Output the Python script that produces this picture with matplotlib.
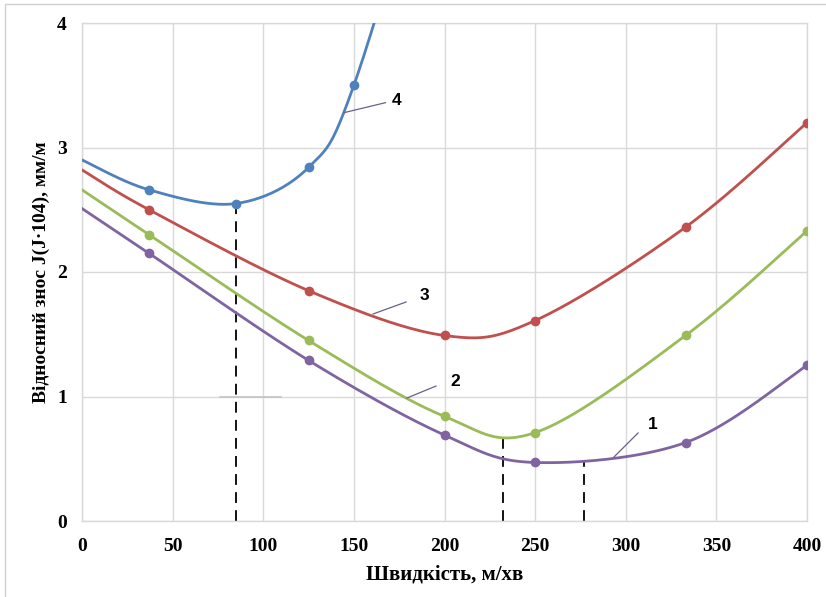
import numpy as np
import matplotlib
matplotlib.use("Agg")
import matplotlib.pyplot as plt
from matplotlib.patches import Rectangle

# швидкість, м/хв
x_speed = [0, 37, 125, 200, 250, 333, 400]
x_speed4 = [0, 37, 85, 125, 150, 200]

# відносний знос, мм/м
wear_1 = [2.51, 2.15, 1.29, 0.69, 0.47, 0.63, 1.25]
wear_2 = [2.66, 2.30, 1.45, 0.84, 0.71, 1.49, 2.33]
wear_3 = [2.82, 2.50, 1.85, 1.49, 1.61, 2.36, 3.20]
wear_4 = [2.90, 2.66, 2.55, 2.84, 3.50, 5.90]

# оптимальні швидкості (мінімуми)
opt_x = [85, 232, 277]
opt_y = [2.55, 0.68, 0.48]

COLORS = {"1": "#8064A2", "2": "#9BBB59", "3": "#C0504D", "4": "#4F81BD"}


def smooth(xs, ys, n=40):
    # згладжування як в Excel (Catmull-Rom через Bezier)
    p = np.column_stack([xs, ys]).astype(float)
    pts = np.vstack([p[0], p, p[-1]])
    out = []
    t = np.linspace(0, 1, n)[:, None]
    for i in range(1, len(pts) - 2):
        p0, p1 = pts[i], pts[i + 1]
        c1 = p0 + (pts[i + 1] - pts[i - 1]) / 6
        c2 = p1 - (pts[i + 2] - pts[i]) / 6
        seg = (1 - t) ** 3 * p0 + 3 * (1 - t) ** 2 * t * c1 + 3 * (1 - t) * t ** 2 * c2 + t ** 3 * p1
        out.append(seg if i == 1 else seg[1:])
    out = np.vstack(out)
    return out[:, 0], out[:, 1]


fig = plt.figure(figsize=(8.26, 5.97), dpi=100)
ax = fig.add_axes([82 / 826, 1 - 521 / 597, (807 - 82) / 826, (521 - 23) / 597])

serif = "Liberation Serif"

series = [("4", x_speed4, wear_4), ("3", x_speed, wear_3), ("2", x_speed, wear_2), ("1", x_speed, wear_1)]
for name, xs, ys in series:
    sx, sy = smooth(xs, ys)
    ax.plot(sx, sy, color=COLORS[name], lw=2.0, zorder=3)
    ax.plot(xs[1:], ys[1:], "o", color=COLORS[name], ms=6, zorder=4)

for xv, yv in zip(opt_x, opt_y):
    ax.plot([xv, xv], [0, yv], color="black", lw=1.3, ls=(0, (6, 4)), zorder=2)

# виноски з номерами кривих
labels = [("4", (144.6, 3.28), (167.4, 3.36), (173.5, 3.38)),
          ("3", (160.6, 1.663), (178.8, 1.759), (188.7, 1.81)),
          ("2", (179.3, 0.988), (195.3, 1.084), (205.8, 1.124)),
          ("1", (293.5, 0.514), (306.8, 0.707), (314.8, 0.775))]
for txt, a, b, c in labels:
    ax.plot([a[0], b[0]], [a[1], b[1]], color="#6b5f8a", lw=0.9, zorder=5)
    ax.text(c[0], c[1], txt, fontsize=12.5, fontweight="bold", family="Liberation Sans",
            ha="center", va="center", zorder=5)

ax.plot([76, 110], [1, 1], color="#c4c4c4", lw=1.2, zorder=1)

ax.set_xlim(0, 400)
ax.set_ylim(0, 4)
ax.set_xticks(range(0, 401, 50))
ax.set_yticks(range(0, 5))
ax.grid(True, color="#d9d9d9", lw=1.0)
ax.set_axisbelow(True)
for s in ax.spines.values():
    s.set_color("#d9d9d9")
    s.set_linewidth(1.0)
ax.tick_params(length=0)
ax.tick_params(axis="x", pad=12)
ax.tick_params(axis="y", pad=11)
for lab in ax.get_xticklabels() + ax.get_yticklabels():
    lab.set_family(serif)
    lab.set_fontweight("bold")
    lab.set_fontsize(14)

ax.set_xlabel("Швидкість, м/хв", family=serif, fontweight="bold", fontsize=15, labelpad=7)
ax.set_ylabel("Відносний знос J(J·104), мм/м", family=serif, fontweight="bold", fontsize=14, labelpad=5)

fig.add_artist(Rectangle((5 / 826, -0.1), 1.2, 1.1 - 4 / 597, transform=fig.transFigure,
                         fill=False, edgecolor="#d0d0d0", lw=1.0))

fig.savefig("out.png", dpi=100)
